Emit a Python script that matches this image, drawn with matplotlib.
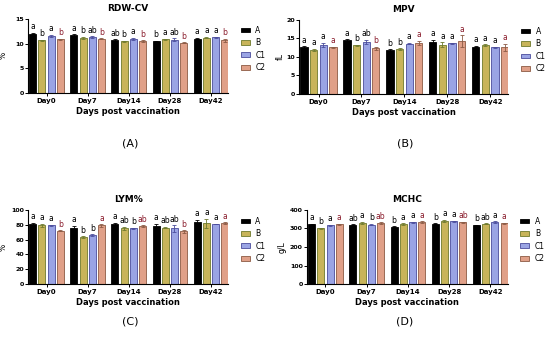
import numpy as np
import matplotlib
matplotlib.use("Agg")
import matplotlib.pyplot as plt

days = ["Day0", "Day7", "Day14", "Day28", "Day42"]
groups = ["A", "B", "C1", "C2"]

# RDW-CV (%)
rdw = [[12.0, 11.7, 10.7, 10.5, 11.0],
       [10.7, 11.1, 10.5, 10.9, 11.2],
       [11.6, 11.3, 11.0, 10.8, 11.3],
       [10.9, 11.0, 10.5, 10.2, 10.7]]
rdw_err = [[0.15, 0.2, 0.2, 0.1, 0.15],
           [0.1, 0.25, 0.1, 0.1, 0.15],
           [0.2, 0.15, 0.2, 0.3, 0.1],
           [0.1, 0.1, 0.2, 0.1, 0.3]]
rdw_let = [["a", "a", "ab", "b", "a"],
           ["b", "b", "b", "a", "a"],
           ["a", "ab", "a", "ab", "a"],
           ["b", "b", "b", "b", "b"]]

# MPV (fL)
mpv = [[12.6, 14.5, 11.9, 14.1, 12.8],
       [11.9, 13.1, 12.2, 13.3, 13.2],
       [13.2, 14.1, 13.6, 13.7, 12.6],
       [12.6, 12.3, 13.8, 14.2, 12.6]]
mpv_err = [[0.3, 0.3, 0.2, 0.6, 0.2],
           [0.3, 0.2, 0.2, 0.7, 0.2],
           [0.6, 0.5, 0.2, 0.2, 0.2],
           [0.2, 0.4, 0.6, 1.6, 1.0]]
mpv_let = [["a", "a", "b", "a", "a"],
           ["a", "b", "b", "a", "a"],
           ["a", "ab", "a", "a", "a"],
           ["a", "b", "a", "a", "a"]]

# LYM%
lym = [[81, 76, 81, 78, 84],
       [79, 63, 75, 76, 82],
       [79, 66, 75, 75, 81],
       [72, 79, 78, 71, 82]]
lym_err = [[1.5, 2.5, 1.5, 3.5, 2.5],
           [2.5, 1.5, 2.0, 1.0, 6.0],
           [1.0, 1.5, 0.8, 4.5, 0.5],
           [0.8, 1.5, 1.5, 1.5, 1.5]]
lym_let = [["a", "a", "a", "a", "a"],
           ["a", "b", "ab", "ab", "a"],
           ["a", "b", "b", "ab", "a"],
           ["b", "a", "ab", "b", "a"]]

# MCHC (g/L)
mchc = [[322, 320, 310, 326, 318],
        [300, 330, 322, 340, 325],
        [316, 321, 332, 338, 335],
        [322, 328, 333, 332, 328]]
mchc_err = [[3, 3, 3, 3, 3],
            [3, 5, 5, 6, 3],
            [3, 4, 3, 3, 4],
            [3, 6, 5, 3, 3]]
mchc_let = [["a", "ab", "b", "b", "b"],
            ["b", "a", "a", "a", "ab"],
            ["a", "b", "a", "a", "a"],
            ["a", "ab", "a", "ab", "a"]]

faces = ["#000000", "#c8b45a", "#9aa4e4", "#e0a088"]
edges = ["#000000", "#6e7a2c", "#4a4c9c", "#8c5a44"]
let_colors = ["#000000", "#000000", "#000000", "#8a1c2c"]


def panel(rect, title, vals, errs, lets, ylim, yticks, ylabel, lab_px, tag, tag_xy):
    ax = fig.add_axes(rect)
    x = np.arange(len(days))
    step = 0.224
    w = 0.17
    pad = (ylim[1] - ylim[0]) * 0.02
    for i in range(4):
        xs = x + (i - 1.5) * step
        ax.bar(xs, vals[i], w, color=faces[i], edgecolor=edges[i], linewidth=0.6,
               yerr=errs[i], error_kw=dict(ecolor=edges[i], elinewidth=0.6,
                                           capsize=1.2, capthick=0.6),
               label=groups[i])
        for j in range(len(days)):
            ax.text(xs[j], vals[i][j] + errs[i][j] + pad, lets[i][j],
                    ha="center", va="bottom", fontsize=5.5, color=let_colors[i])
    ax.set_xlim(-0.45, 4.42)
    ax.set_ylim(*ylim)
    ax.set_yticks(yticks)
    ax.set_xticks(x)
    ax.set_xticklabels(days, fontsize=5, fontweight="bold")
    ax.tick_params(axis="y", labelsize=4.5, length=2, width=0.7, pad=1)
    ax.tick_params(axis="x", length=2, width=0.7, pad=1.5)
    for t in ax.get_yticklabels():
        t.set_fontweight("bold")
    for s in ["top", "right"]:
        ax.spines[s].set_visible(False)
    ax.spines["left"].set_linewidth(0.8)
    ax.spines["bottom"].set_linewidth(0.8)
    ax.set_ylabel(ylabel, fontsize=5.5)
    ax.yaxis.set_label_coords(-lab_px / (rect[2] * 550), 0.5)
    ax.set_xlabel("Days post vaccination", fontsize=6, fontweight="bold", labelpad=2)
    ax.set_title(title, fontsize=6.5, fontweight="bold", pad=6)
    ax.legend(loc="upper left", bbox_to_anchor=(1.04, 0.97), frameon=False,
              fontsize=5.5, handlelength=1.2, handleheight=0.6,
              labelspacing=0.45, handletextpad=0.7, borderaxespad=0.2)
    fig.text(tag_xy[0], tag_xy[1], tag, ha="center", va="center", fontsize=8)
    return ax


fig = plt.figure(figsize=(5.5, 3.44), dpi=100)

panel([0.051, 0.730, 0.364, 0.215], "RDW-CV", rdw, rdw_err, rdw_let,
      (0, 15), [0, 5, 10, 15], "%", 20, "(A)", (0.236, 0.584))
panel([0.544, 0.727, 0.38, 0.215], "MPV", mpv, mpv_err, mpv_let,
      (0, 20), [0, 5, 10, 15, 20], "fL", 14, "(B)", (0.736, 0.584))
panel([0.051, 0.174, 0.364, 0.216], "LYM%", lym, lym_err, lym_let,
      (0, 100), [0, 20, 40, 60, 80, 100], "%", 20, "(C)", (0.236, 0.064))
panel([0.558, 0.174, 0.365, 0.216], "MCHC", mchc, mchc_err, mchc_let,
      (0, 400), [0, 100, 200, 300, 400], "g/L", 20, "(D)", (0.736, 0.064))

fig.savefig("out.png", dpi=100)
